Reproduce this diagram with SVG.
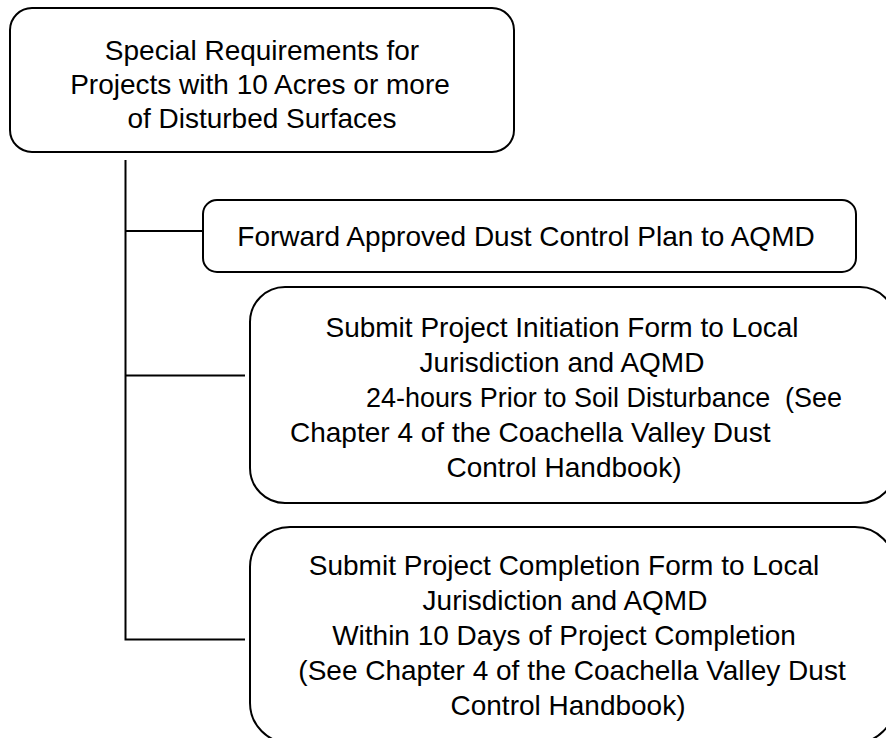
<svg xmlns="http://www.w3.org/2000/svg" width="886" height="738" viewBox="0 0 886 738">
<style>
.box{fill:#fff;stroke:#000;stroke-width:2}
.conn{fill:none;stroke:#000;stroke-width:2}
text{font-family:"Liberation Sans",Arial,sans-serif;font-size:28px;fill:#000;text-anchor:middle}
.st{text-anchor:start}
</style>
<rect width="886" height="738" fill="#fff"/>
<g id="connectors">
<path class="conn" d="M125.5 160 V639.5 H245"/>
<path class="conn" d="M125.5 231 H203"/>
<path class="conn" d="M125.5 375.5 H245"/>
</g>
<g id="node-main">
<rect class="box" x="10" y="8" width="504" height="144" rx="22"/>
<text x="262" y="60">Special Requirements for</text>
<text x="260" y="94">Projects with 10 Acres or more</text>
<text x="262" y="128">of Disturbed Surfaces</text>
</g>
<g id="node-forward">
<rect class="box" x="203" y="200" width="653" height="72" rx="14"/>
<text x="526" y="246">Forward Approved Dust Control Plan to AQMD</text>
</g>
<g id="node-initiation">
<rect class="box" x="250" y="287" width="645" height="216" rx="35"/>
<text x="562" y="337">Submit Project Initiation Form to Local</text>
<text x="562" y="372">Jurisdiction and AQMD</text>
<text class="st" x="366" y="407" textLength="476" lengthAdjust="spacingAndGlyphs">24-hours Prior to Soil Disturbance &#160;(See</text>
<text class="st" x="290" y="442">Chapter 4 of the Coachella Valley Dust</text>
<text x="564" y="477">Control Handbook)</text>
</g>
<g id="node-completion">
<rect class="box" x="250" y="527" width="645" height="216" rx="40"/>
<text x="564" y="575">Submit Project Completion Form to Local</text>
<text x="565" y="610">Jurisdiction and AQMD</text>
<text x="564" y="645">Within 10 Days of Project Completion</text>
<text x="572" y="680">(See Chapter 4 of the Coachella Valley Dust</text>
<text x="568" y="715">Control Handbook)</text>
</g>
</svg>
